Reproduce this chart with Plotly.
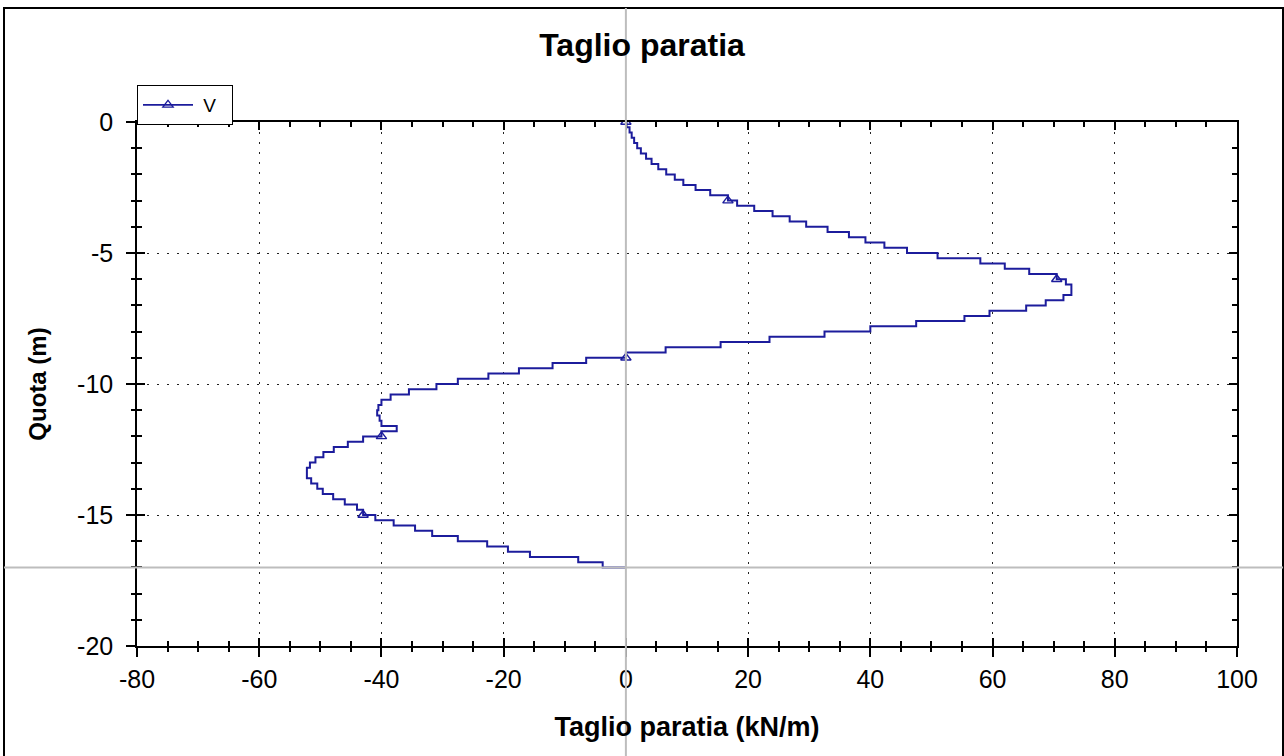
import plotly.graph_objects as go

# Depth nodes (m) and shear V (kN/m)
# (each V value is the shear of the element just above that node; the last
#  pair closes the diagram back to zero at the toe)
quota = [
    0.0, -0.2, -0.4, -0.6, -0.8, -1.0, -1.2, -1.4, -1.6, -1.8,
    -2.0, -2.2, -2.4, -2.6, -2.8, -3.0, -3.2, -3.4, -3.6, -3.8,
    -4.0, -4.2, -4.4, -4.6, -4.8, -5.0, -5.2, -5.4, -5.6, -5.8,
    -6.0, -6.2, -6.4, -6.6, -6.8, -7.0, -7.2, -7.4, -7.6, -7.8,
    -8.0, -8.2, -8.4, -8.6, -8.8, -9.0, -9.2, -9.4, -9.6, -9.8,
    -10.0, -10.2, -10.4, -10.6, -10.8, -11.0, -11.2, -11.4, -11.6, -11.8,
    -12.0, -12.2, -12.4, -12.6, -12.8, -13.0, -13.2, -13.4, -13.6, -13.8,
    -14.0, -14.2, -14.4, -14.6, -14.8, -15.0, -15.2, -15.4, -15.6, -15.8,
    -16.0, -16.2, -16.4, -16.6, -16.8, -17.0, -17.0,
]
taglio = [
    0.0, 0.1, 0.6, 0.95, 1.35, 1.85, 2.45, 3.3, 4.2, 5.3,
    6.6, 8.0, 9.4, 11.4, 13.8, 16.7, 18.2, 21.0, 24.0, 26.8,
    29.5, 33.0, 36.5, 39.2, 42.3, 46.0, 51.0, 58.0, 62.0, 66.0,
    70.5, 72.0, 72.9, 72.9, 71.6, 68.7, 65.5, 59.5, 55.4, 47.5,
    40.0, 32.5, 23.5, 15.5, 6.5, 0.0, -6.5, -12.0, -17.5, -22.5,
    -27.5, -31.0, -35.5, -38.5, -40.0, -40.5, -40.7, -40.3, -40.0, -37.5,
    -40.0, -43.0, -45.5, -47.8, -49.5, -50.8, -51.7, -52.2, -52.2, -51.5,
    -50.5, -49.6, -47.9, -46.0, -44.0, -43.0, -41.0, -38.0, -34.5, -31.7,
    -27.5, -22.7, -19.3, -15.7, -7.8, -3.8, 0.0,
]
marker_every = 15
n_marked = 76  # markers on nodes 0 .. 75 (0, -3, ..., -15 m)

x_ticks = [-80, -60, -40, -20, 0, 20, 40, 60, 80, 100]
x_ticktext = ["-80", "-60", "-40", "-20", "0", "20", "40", "60", "80", "100"]
y_ticks = [0, -5, -10, -15, -20]
y_ticktext = ["0", "-5", "-10", "-15", "-20"]
x_range = [-80, 100]
y_range = [-20, 0]
cursor_x = 0
cursor_y = -17

BLUE = "#1c1c9c"
FONT = "Liberation Sans, Arial, sans-serif"

# plot area in pixels (page coordinates)
L, R, T, B = 137, 1237, 122, 646
PW, PH = R - L, B - T

def px_x(p):
    return (p - L) / PW

def px_y(p):
    return (B - p) / PH

fig = go.Figure()

fig.add_trace(go.Scatter(
    x=taglio, y=quota, mode="lines", showlegend=False,
    line=dict(color=BLUE, width=2, shape="hv"),
))
mk_idx = list(range(0, n_marked, marker_every))
fig.add_trace(go.Scatter(
    x=[taglio[i] for i in mk_idx], y=[quota[i] for i in mk_idx],
    mode="markers", showlegend=False,
    marker=dict(symbol="triangle-up-open", size=9, color=BLUE, line=dict(width=1.4)),
))
# legend entry
fig.add_trace(go.Scatter(
    x=[None], y=[None], name="\u00a0V\u00a0\u00a0", mode="lines+markers",
    line=dict(color=BLUE, width=1.6),
    marker=dict(symbol="triangle-up-open", size=9, color=BLUE, line=dict(width=1.3)),
))
# dummy trace for the overlay axes (outer half of the crossing ticks)
fig.add_trace(go.Scatter(x=[None], y=[None], xaxis="x2", yaxis="y2",
                         showlegend=False, hoverinfo="skip"))

grid = dict(showgrid=True, gridcolor="#222222", gridwidth=1, griddash="2px,8px")
tick_common = dict(tickwidth=1.5, tickcolor="black", zeroline=False)

fig.update_layout(
    width=1284, height=756,
    paper_bgcolor="white", plot_bgcolor="white",
    margin=dict(l=L, r=1284 - R, t=T, b=756 - B),
    font=dict(family=FONT, color="black"),
    title=dict(text="<b>Taglio paratia</b>", x=0.5, xanchor="center",
               y=1 - 45 / 756, yanchor="middle", font=dict(size=32, family=FONT)),
    xaxis=dict(range=x_range, tickvals=x_ticks, ticktext=x_ticktext,
               ticks="inside", ticklen=8, showline=True, linecolor="black",
               linewidth=1.5, mirror="allticks",
               tickfont=dict(size=25, family=FONT), ticklabelstandoff=10,
               minor=dict(dtick=5, ticks="inside", ticklen=5, tickwidth=1.5,
                          tickcolor="black", showgrid=False),
               title=dict(text="<b>Taglio paratia (kN/m)</b>", standoff=25,
                          font=dict(size=27, family=FONT)),
               **tick_common, **grid),
    yaxis=dict(range=y_range, tickvals=y_ticks, ticktext=y_ticktext,
               ticks="inside", ticklen=8, showline=True, linecolor="black",
               linewidth=1.5, mirror="allticks",
               tickfont=dict(size=25, family=FONT), ticklabelstandoff=17,
               minor=dict(dtick=1, ticks="inside", ticklen=5, tickwidth=1.5,
                          tickcolor="black", showgrid=False),
               title=dict(text="<b>Quota (m)</b>", standoff=24,
                          font=dict(size=24, family=FONT)),
               **tick_common, **grid),
    xaxis2=dict(overlaying="x", side="bottom", anchor="y2", range=x_range,
                tickvals=x_ticks, ticks="outside", ticklen=10,
                showticklabels=False, showgrid=False, showline=False,
                minor=dict(dtick=5, ticks="outside", ticklen=5, tickwidth=1.5,
                           tickcolor="black", showgrid=False),
                **tick_common),
    yaxis2=dict(overlaying="y", side="left", anchor="x2", range=y_range,
                tickvals=y_ticks, ticks="outside", ticklen=10,
                showticklabels=False, showgrid=False, showline=False,
                minor=dict(dtick=1, ticks="outside", ticklen=5, tickwidth=1.5,
                           tickcolor="black", showgrid=False),
                **tick_common),
    legend=dict(x=0, xanchor="left", y=px_y(85), yanchor="top",
                bgcolor="white", bordercolor="black", borderwidth=1,
                font=dict(size=19, family=FONT), itemwidth=50,
                tracegroupgap=0),
    showlegend=True,
)

# cursor crosshair lines and outer frame
fig.add_shape(type="line", xref="x", yref="paper", x0=cursor_x, x1=cursor_x,
              y0=px_y(770), y1=px_y(8),
              line=dict(color="#bdbdbd", width=2), layer="above")
fig.add_shape(type="line", xref="paper", yref="y", y0=cursor_y, y1=cursor_y,
              x0=px_x(4), x1=px_x(1283),
              line=dict(color="#bdbdbd", width=2), layer="above")
fig.add_shape(type="rect", xref="paper", yref="paper",
              x0=px_x(4), x1=px_x(1283), y0=px_y(780), y1=px_y(8),
              line=dict(color="black", width=2), fillcolor="rgba(0,0,0,0)",
              layer="below")

fig.write_html("out.html", config={"displayModeBar": False},
               post_script="document.body.style.margin='0px';")
